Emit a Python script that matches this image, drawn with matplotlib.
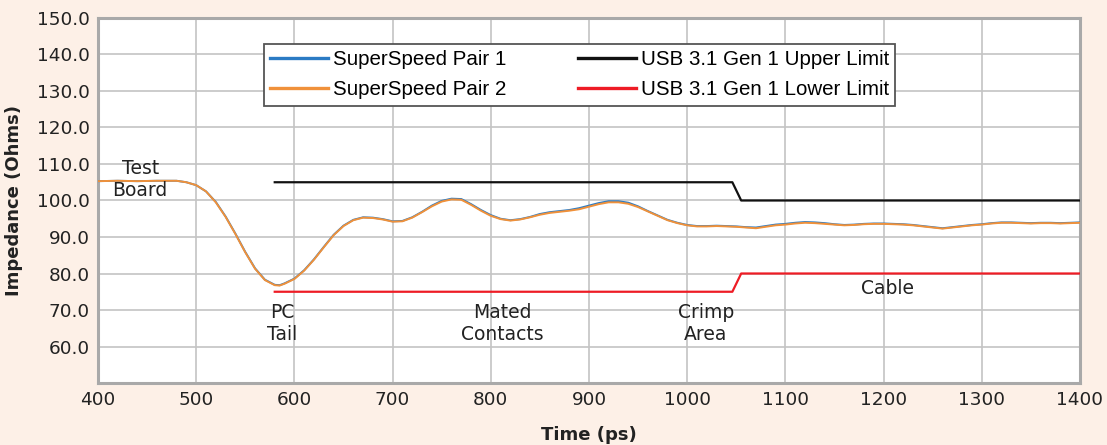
import matplotlib
matplotlib.use("Agg")
import matplotlib.pyplot as plt

# ---- data ----
time_ps = [400, 420, 440, 460, 480, 490, 500, 510, 520, 530, 540, 550, 560, 570, 580, 585, 590,
           600, 610, 620, 630, 640, 650, 660, 670, 680, 690, 700, 710, 720, 730, 740, 750, 760,
           770, 780, 790, 800, 810, 820, 830, 840, 850, 860, 870, 880, 890, 900, 910, 920, 930,
           940, 950, 960, 970, 980, 990, 1000, 1010, 1020, 1030, 1040, 1050, 1060, 1070, 1080,
           1090, 1100, 1110, 1120, 1130, 1140, 1150, 1160, 1170, 1180, 1190, 1200, 1210, 1220,
           1230, 1240, 1250, 1260, 1270, 1280, 1290, 1300, 1310, 1320, 1330, 1340, 1350, 1360,
           1370, 1380, 1390, 1400]

pair2 = [105.3, 105.4, 105.3, 105.4, 105.4, 105.0, 104.2, 102.5, 99.5, 95.5, 90.8, 85.8, 81.3,
         78.2, 76.8, 76.7, 77.2, 78.5, 80.8, 83.8, 87.2, 90.5, 93.0, 94.6, 95.3, 95.2, 94.8,
         94.2, 94.3, 95.3, 96.8, 98.4, 99.7, 100.3, 100.2, 98.8, 97.2, 95.8, 94.9, 94.5, 94.8,
         95.4, 96.1, 96.6, 96.9, 97.2, 97.6, 98.3, 99.0, 99.5, 99.5, 99.1, 98.2, 97.0, 95.8,
         94.6, 93.8, 93.2, 92.9, 92.9, 93.0, 92.9, 92.8, 92.6, 92.4, 92.8, 93.2, 93.4, 93.7,
         93.9, 93.8, 93.6, 93.4, 93.2, 93.3, 93.5, 93.6, 93.6, 93.5, 93.4, 93.2, 92.9, 92.6,
         92.3, 92.6, 92.9, 93.2, 93.4, 93.7, 93.9, 93.9, 93.8, 93.7, 93.8, 93.8, 93.7, 93.8, 93.9]

pair1 = [105.3, 105.4, 105.3, 105.4, 105.4, 105.0, 104.2, 102.5, 99.6, 95.6, 90.9, 85.9, 81.4,
         78.3, 76.9, 76.8, 77.3, 78.6, 80.9, 83.9, 87.3, 90.6, 93.1, 94.7, 95.4, 95.3, 94.9,
         94.3, 94.4, 95.4, 96.9, 98.6, 99.9, 100.5, 100.4, 99.0, 97.4, 96.0, 95.0, 94.6, 94.9,
         95.5, 96.3, 96.8, 97.1, 97.4, 97.9, 98.6, 99.3, 99.8, 99.8, 99.4, 98.4, 97.1, 95.9,
         94.7, 93.9, 93.3, 93.0, 93.0, 93.1, 93.0, 92.9, 92.7, 92.6, 93.0, 93.4, 93.6, 93.9,
         94.1, 94.0, 93.8, 93.5, 93.3, 93.4, 93.6, 93.7, 93.7, 93.6, 93.5, 93.3, 93.0, 92.7,
         92.4, 92.7, 93.0, 93.3, 93.5, 93.8, 94.0, 94.0, 93.9, 93.8, 93.9, 93.9, 93.8, 93.9, 94.0]

limit_t = [580, 1046, 1055, 1400]
upper_limit = [105, 105, 100, 100]
lower_limit = [75, 75, 80, 80]

series_labels = ["SuperSpeed Pair 1", "SuperSpeed Pair 2",
                 "USB 3.1 Gen 1 Upper Limit", "USB 3.1 Gen 1 Lower Limit"]

annotations = [("Test\nBoard", 443, 105.8),
               ("PC\nTail", 588, 66.3),
               ("Mated\nContacts", 812, 66.3),
               ("Crimp\nArea", 1019, 66.3),
               ("Cable", 1204, 76.0)]

xticks = list(range(400, 1401, 100))
yticks = [60, 70, 80, 90, 100, 110, 120, 130, 140, 150]

# ---- figure ----
bg = "#fdf0e7"
fig = plt.figure(figsize=(11.07, 4.45), dpi=100, facecolor=bg)
ax = fig.add_axes([0.0885, 0.1393, 0.8871, 0.8203])
ax.set_facecolor("white")

ax.plot(time_ps, pair1, color="#2b7bc4", lw=1.4, label=series_labels[0], zorder=3)
ax.plot(time_ps, pair2, color="#f0913a", lw=1.4, label=series_labels[1], zorder=4)
ax.plot(limit_t, upper_limit, color="#111111", lw=1.6, label=series_labels[2], zorder=3)
ax.plot(limit_t, lower_limit, color="#ee1c25", lw=1.6, label=series_labels[3], zorder=3)

ax.set_xlim(400, 1400)
ax.set_ylim(50, 150)
ax.set_xticks(xticks)
ax.set_yticks(yticks)
ax.set_yticklabels([f"{v:.1f}" for v in yticks])
ax.grid(True, color="#c4c4c4", lw=1.2, zorder=0)
ax.set_axisbelow(True)
ax.tick_params(length=0, labelsize=13.3, colors="#222222", pad=6)
for lab in ax.get_xticklabels() + ax.get_yticklabels():
    lab.set_family("DejaVu Sans")
for sp in ax.spines.values():
    sp.set_color("#a9a9a9")
    sp.set_linewidth(2.2)

ax.set_xlabel("Time (ps)", fontsize=13, fontweight="bold", color="#222222", labelpad=12)
ax.set_ylabel("Impedance (Ohms)", fontsize=13, fontweight="bold", color="#222222", labelpad=10)

for txt, x, y in annotations:
    ax.text(x, y, txt, ha="center", va="center", fontsize=13.5, color="#222222",
            linespacing=1.2, family="DejaVu Sans", zorder=5)

handles, labels = ax.get_legend_handles_labels()
leg = ax.legend(handles, labels,
                ncol=2, loc="upper left", bbox_to_anchor=(0.169, 0.929), borderaxespad=0,
                fancybox=False, framealpha=1, edgecolor="#555555",
                prop={"family": "Liberation Sans", "size": 14.8},
                handlelength=2.8, handletextpad=0.25, columnspacing=3.5,
                labelspacing=0.55, borderpad=0.3)
for h in leg.get_lines():
    h.set_linewidth(2.4)
leg.get_frame().set_linewidth(1.3)
leg.set_zorder(10)

fig.savefig("out.png", dpi=100, facecolor=bg)
